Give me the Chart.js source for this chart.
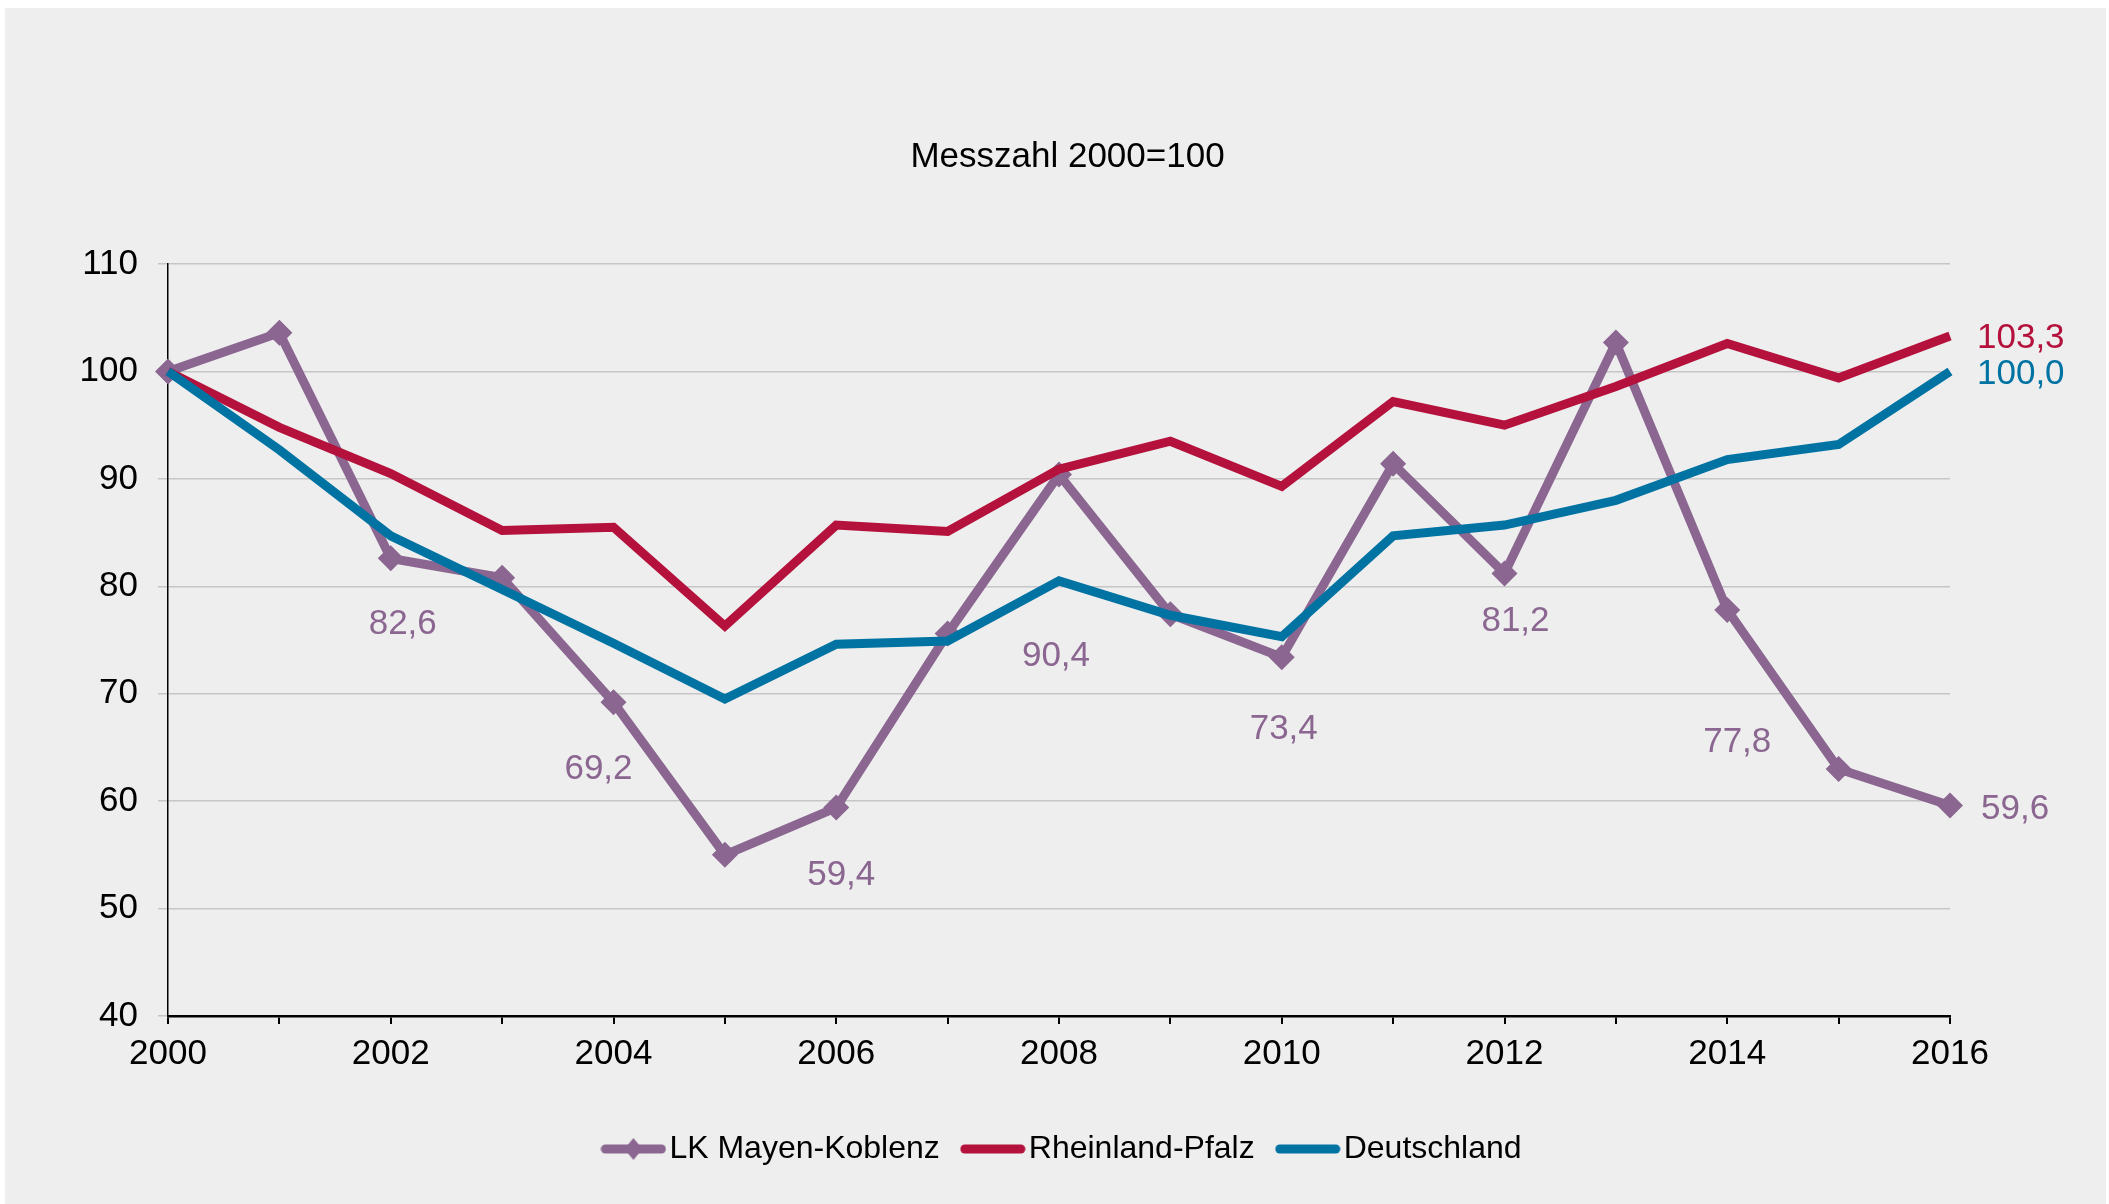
<!DOCTYPE html>
<html>
<head>
<meta charset="utf-8">
<script src="https://cdn.jsdelivr.net/npm/chart.js@4.4.1/dist/chart.umd.min.js"></script>
<style>
  html, body { margin: 0; padding: 0; background: #fff; }
  #box { position: absolute; left: 5px; top: 8px; width: 2101px; height: 1196px; background: #eeeeee; }
  canvas { display: block; }
</style>
</head>
<body>
<div id="box"><canvas id="myChart" width="2101" height="1196"></canvas></div>
<script>
// ===== data =====
const years = ['2000', '2001', '2002', '2003', '2004', '2005', '2006', '2007', '2008',
               '2009', '2010', '2011', '2012', '2013', '2014', '2015', '2016']
const tickYears = ['2000', '2002', '2004', '2006', '2008', '2010', '2012', '2014', '2016']
const seriesNames = ['LK Mayen-Koblenz', 'Rheinland-Pfalz', 'Deutschland']
const lkValues = [100, 103.6, 82.6, 80.8, 69.2, 55.0, 59.4, 75.6, 90.4, 77.4, 73.4, 91.4, 81.2, 102.7, 77.8, 63.0, 59.6]
const rpValues = [100, 94.8, 90.5, 85.2, 85.5, 76.3, 85.7, 85.1, 90.9, 93.5, 89.3, 97.2, 95.0, 98.6, 102.6, 99.4, 103.3]
const deValues = [100, 92.7, 84.7, 79.7, 74.7, 69.5, 74.6, 74.9, 80.5, 77.3, 75.3, 84.7, 85.7, 88.0, 91.8, 93.2, 100.0]
const yTicks = [40, 50, 60, 70, 80, 90, 100, 110]

// which points get a value label (dataset index -> point indices)
const labelPoints = [[2, 4, 6, 8, 10, 12, 14, 16], [16], [16]]

const FONT = '"Liberation Sans", Arial, sans-serif'
const colors = ['#8a6690', '#b5113d', '#0073a3']

// label placement relative to the point: [dx, dy, align]
const labelPlace = {
    '0-2': [12, 66, 'center'], '0-4': [-15, 67, 'center'], '0-6': [5, 68, 'center'],
    '0-8': [-3, 182, 'center'], '0-10': [2, 72, 'center'], '0-12': [11, 48, 'center'],
    '0-14': [10, 132, 'center'], '0-16': [31, 4, 'left'],
    '1-16': [27, 2, 'left'], '2-16': [27, 3, 'left']
}

function fmt(v) {
    return v.toFixed(1).replace('.', ',')
}

// legend icons: line with optional diamond
function makeIcon(color, diamond) {
    const c = document.createElement('canvas')
    c.width = 66
    c.height = 24
    const g = c.getContext('2d')
    g.strokeStyle = color
    g.lineWidth = 9
    g.lineCap = 'round'
    g.beginPath()
    g.moveTo(5, 12)
    g.lineTo(61, 12)
    g.stroke()
    if (diamond) {
        g.fillStyle = color
        g.beginPath()
        g.moveTo(33, 1)
        g.lineTo(42, 12)
        g.lineTo(33, 23)
        g.lineTo(24, 12)
        g.closePath()
        g.fill()
    }
    return c
}
const legendIcons = [makeIcon(colors[0], true), makeIcon(colors[1], false), makeIcon(colors[2], false)]

const valueLabels = {
    id: 'valueLabels',
    afterDatasetsDraw(chart) {
        const ctx = chart.ctx
        ctx.save()
        ctx.font = '35px ' + FONT
        ctx.textBaseline = 'middle'
        labelPoints.forEach((idxs, d) => {
            const meta = chart.getDatasetMeta(d)
            idxs.forEach(i => {
                const p = meta.data[i]
                const pl = labelPlace[d + '-' + i]
                ctx.fillStyle = colors[d]
                ctx.textAlign = pl[2]
                ctx.fillText(fmt(chart.data.datasets[d].data[i]), p.x + pl[0], p.y + pl[1])
            })
        })
        ctx.restore()
    }
}

const ctx = document.getElementById('myChart')

new Chart(ctx, {
    type: 'line',
    data: {
        labels: years,
        datasets: [{
            label: seriesNames[0],
            data: lkValues,
            borderColor: colors[0],
            backgroundColor: colors[0],
            borderWidth: 9,
            pointStyle: 'rectRot',
            pointRadius: 13,
            pointBorderWidth: 0,
            pointBackgroundColor: colors[0],
            order: 2
        }, {
            label: seriesNames[1],
            data: rpValues,
            borderColor: colors[1],
            backgroundColor: colors[1],
            borderWidth: 9,
            pointRadius: 0,
            order: 1
        }, {
            label: seriesNames[2],
            data: deValues,
            borderColor: colors[2],
            backgroundColor: colors[2],
            borderWidth: 9,
            pointRadius: 0,
            order: 0
        }]
    },
    options: {
        responsive: false,
        animation: false,
        devicePixelRatio: 1,
        layout: {
            padding: { left: 24, right: 0, top: 0, bottom: 29 }
        },
        elements: {
            line: { tension: 0, borderJoinStyle: 'miter', borderCapStyle: 'butt' }
        },
        scales: {
            x: {
                offset: false,
                afterFit: scale => { scale.height += 16 },
                grid: { drawOnChartArea: false, drawTicks: true, tickLength: 8, tickColor: '#000', lineWidth: 2 },
                border: { color: '#000', width: 2.5 },
                ticks: {
                    autoSkip: false,
                    maxRotation: 0,
                    padding: 9,
                    color: '#000',
                    font: { family: FONT, size: 35 },
                    callback: (v, i) => tickYears.includes(years[i]) ? years[i] : ''
                }
            },
            y: {
                min: yTicks[0],
                max: yTicks[yTicks.length - 1],
                afterFit: scale => { scale.width = 139 },
                grid: { color: '#c6c6c6', lineWidth: 1.5, tickLength: 10, tickColor: '#c6c6c6' },
                border: { color: '#000', width: 1.5 },
                ticks: {
                    stepSize: 10,
                    padding: 20,
                    color: '#000',
                    font: { family: FONT, size: 35 }
                }
            },
            // empty right-hand space for the end labels
            yRight: {
                position: 'right',
                min: yTicks[0],
                max: yTicks[yTicks.length - 1],
                afterFit: scale => { scale.width = 156 },
                grid: { display: false },
                border: { display: false },
                ticks: { display: false }
            }
        },
        plugins: {
            title: {
                display: true,
                text: 'Messzahl 2000=100',
                color: '#000',
                font: { family: FONT, size: 35, weight: 'normal' },
                padding: { top: 128, bottom: 86 }
            },
            legend: {
                position: 'bottom',
                labels: {
                    usePointStyle: true,
                    pointStyleWidth: 40,
                    padding: 33,
                    color: '#000',
                    font: { family: FONT, size: 32 },
                    generateLabels: chart => chart.data.datasets.map((ds, i) => ({
                        text: ds.label,
                        pointStyle: legendIcons[i],
                        fillStyle: ds.borderColor,
                        strokeStyle: ds.borderColor,
                        lineWidth: 0,
                        hidden: !chart.isDatasetVisible(i),
                        datasetIndex: i
                    }))
                }
            },
            tooltip: { enabled: false }
        }
    },
    plugins: [valueLabels]
})
</script>
</body>
</html>
